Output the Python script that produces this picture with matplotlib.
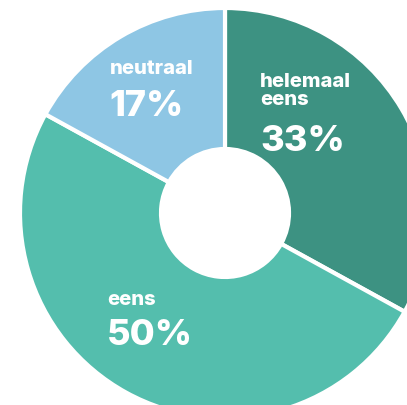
import matplotlib.pyplot as plt

labels = ['helemaal\neens', 'eens', 'neutraal']
values = [33, 50, 17]
colors = ['#3d9282', '#54bead', '#8ec6e4']

fig = plt.figure(figsize=(4.07, 4.06), dpi=100)
ax = fig.add_axes([0, 0, 1, 1])

# pixel coords, y measured from bottom
cx, cy = 225, 406 - 214
r_out = 205
r_in = 64

ax.pie(values, colors=colors, startangle=90, counterclock=False,
       center=(cx, cy), radius=r_out, frame=True,
       wedgeprops=dict(width=r_out - r_in, edgecolor='white', linewidth=3))
ax.set_xlim(0, 407)
ax.set_ylim(0, 406)
ax.set_aspect('equal')
ax.axis('off')

font = 'Inter'
# name and percentage positions (top-left in pixels)
name_pos = [(260, 73), (107, 291), (110, 60)]
pct_pos = [(260, 125), (107, 319), (109, 90)]
for lab, v, (nx, ny), (px, py) in zip(labels, values, name_pos, pct_pos):
    ax.text(nx, 406 - ny, lab, color='white', fontsize=14.5, fontweight='heavy',
            family=font, ha='left', va='top', linespacing=0.98)
    ax.text(px, 406 - py, f'{v}%', color='white', fontsize=26, fontweight='heavy',
            family=font, ha='left', va='top')

fig.savefig('out.png', dpi=100)
